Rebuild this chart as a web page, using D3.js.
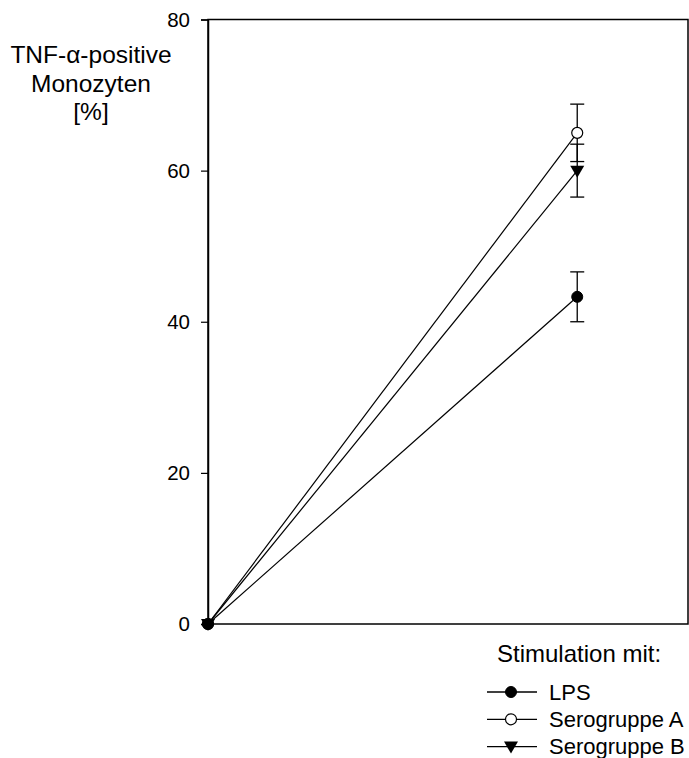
<!DOCTYPE html>
<html><head><meta charset="utf-8">
<script src="https://cdn.jsdelivr.net/npm/d3@7"></script>
<style>body{margin:0;background:#fff;} svg{display:block;font-family:"Liberation Sans",Arial,sans-serif;}</style>
</head><body>
<script>
const stimulations = [0, 1];
const seriesNames = ["LPS", "Serogruppe A", "Serogruppe B"];
const lpsValues = [0, 43.3];
const lpsErrors = [0, 3.3];
const seroAValues = [0, 65.0];
const seroAErrors = [0, 3.8];
const seroBValues = [0, 60.0];
const seroBErrors = [0, 3.5];
const yTicks = [0, 20, 40, 60, 80];
const yLabelLines = ["TNF-\u03b1-positive", "Monozyten", "[%]"];
const legendTitle = "Stimulation mit:";

const W = 689, H = 758;
const svg = d3.select("body").append("svg").attr("width", W).attr("height", H);
const x = d3.scaleLinear().domain([0, 1.3]).range([208, 688]);
const y = d3.scaleLinear().domain([0, 80]).range([624, 19.5]);

const series = [
  {name: seriesNames[1], vals: seroAValues, errs: seroAErrors, sym: "circleOpen"},
  {name: seriesNames[0], vals: lpsValues, errs: lpsErrors, sym: "circle"},
  {name: seriesNames[2], vals: seroBValues, errs: seroBErrors, sym: "triDown"}
];

function drawMarker(g, sym, cx, cy) {
  if (sym === "circle") {
    g.append("circle").attr("cx", cx).attr("cy", cy).attr("r", 5.5).attr("fill", "#000").attr("stroke", "#000");
  } else if (sym === "circleOpen") {
    g.append("circle").attr("cx", cx).attr("cy", cy).attr("r", 5.5).attr("fill", "#fff").attr("stroke", "#000").attr("stroke-width", 1.2);
  } else {
    g.append("path").attr("d", `M${cx-7},${cy-5} L${cx+7},${cy-5} L${cx},${cy+7} Z`).attr("fill", "#000");
  }
}

// frame
svg.append("rect").attr("x", x(0)).attr("y", y(80)).attr("width", x(1.3) - x(0)).attr("height", y(0) - y(80))
  .attr("fill", "none").attr("stroke", "#000").attr("stroke-width", 1.5);

// y axis
const yAxis = d3.axisLeft(y).tickValues(yTicks).tickSize(7).tickPadding(11).tickFormat(d3.format("d"));
const ga = svg.append("g").attr("transform", `translate(${x(0)},0)`).call(yAxis);
ga.select(".domain").attr("stroke-width", 1.5);
ga.selectAll(".tick line").attr("stroke-width", 1.2);
ga.selectAll("text").attr("font-size", 20.5).attr("font-family", "Liberation Sans, Arial, sans-serif").attr("fill", "#000");

// y label
const yl = svg.append("text").attr("text-anchor", "middle").attr("font-size", 24.5).attr("fill", "#000");
yLabelLines.forEach((t, i) => yl.append("tspan").attr("x", 91).attr("y", 63 + i * 28.5).text(t));

// lines
series.forEach(s => {
  const line = d3.line().x((d, i) => x(stimulations[i])).y(d => y(d));
  svg.append("path").attr("d", line(s.vals)).attr("fill", "none").attr("stroke", "#000").attr("stroke-width", 1.2);
});
// error bars
series.forEach(s => {
  s.vals.forEach((v, i) => {
    if (!s.errs[i]) return;
    const cx = x(stimulations[i]);
    const g = svg.append("g").attr("stroke", "#000").attr("stroke-width", 1.3);
    g.append("line").attr("x1", cx).attr("x2", cx).attr("y1", y(v - s.errs[i])).attr("y2", y(v + s.errs[i]));
    [v - s.errs[i], v + s.errs[i]].forEach(e => g.append("line").attr("x1", cx - 7).attr("x2", cx + 7).attr("y1", y(e)).attr("y2", y(e)));
  });
});
// markers
series.forEach(s => {
  s.vals.forEach((v, i) => drawMarker(svg, s.sym, x(stimulations[i]), y(v)));
});

// legend
svg.append("text").attr("x", 497).attr("y", 662).attr("font-size", 24).attr("fill", "#000").text(legendTitle);
const legendOrder = [series[1], series[0], series[2]];
legendOrder.forEach((s, i) => {
  const ly = 692 + i * 27.3;
  svg.append("line").attr("x1", 487).attr("x2", 537).attr("y1", ly).attr("y2", ly).attr("stroke", "#000").attr("stroke-width", 1.3);
  drawMarker(svg, s.sym, 511, ly);
  svg.append("text").attr("x", 549).attr("y", ly + 7.5).attr("font-size", 22).attr("fill", "#000").text(s.name);
});
</script>
</body></html>
